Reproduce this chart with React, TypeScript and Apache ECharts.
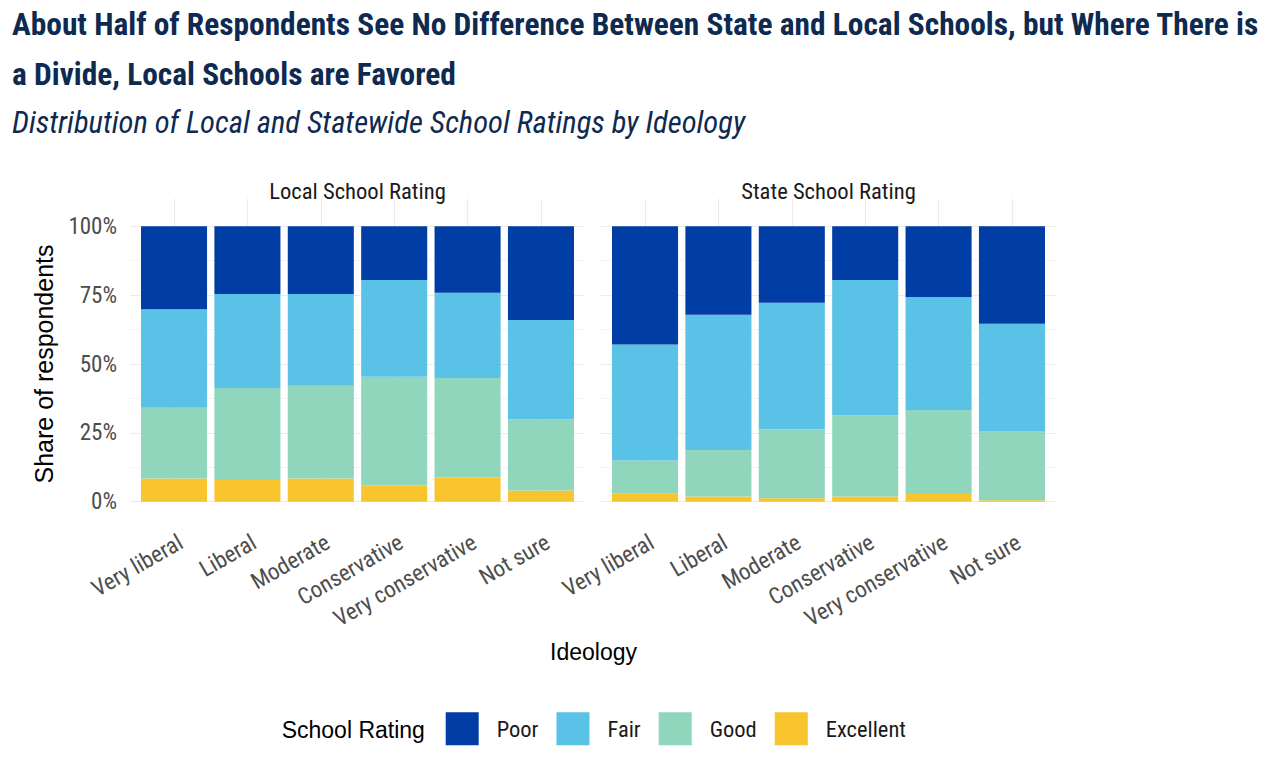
import React, { useEffect, useRef } from "react";
import * as echarts from "echarts";

const categories = ["Very liberal", "Liberal", "Moderate", "Conservative", "Very conservative", "Not sure"];
const ratings = ["Poor", "Fair", "Good", "Excellent"];
const yTicks = [0, 25, 50, 75, 100];

const localPoor = [30.1, 24.6, 24.6, 19.5, 24.1, 34.0];
const localFair = [35.8, 34.1, 33.3, 35.1, 31.0, 36.1];
const localGood = [25.7, 33.4, 33.7, 39.5, 36.1, 25.8];
const localExcellent = [8.4, 7.9, 8.4, 5.9, 8.8, 4.1];

const statePoor = [42.9, 32.1, 27.8, 19.5, 25.7, 35.4];
const stateFair = [42.1, 49.1, 45.9, 49.1, 41.0, 38.9];
const stateGood = [11.9, 16.9, 25.0, 29.5, 30.5, 25.2];
const stateExcellent = [3.1, 1.9, 1.3, 1.9, 2.8, 0.5];

const colors: Record<string, string> = {
  Poor: "#003DA5",
  Fair: "#5BC2E7",
  Good: "#8FD6BD",
  Excellent: "#F9C52E",
};

const NARROW = "'Liberation Sans Narrow', 'Arial Narrow', 'Roboto Condensed', sans-serif";
const REG = "'Liberation Sans', Arial, sans-serif";
const TITLE_COLOR = "#0E2A50";
const GRID_COLOR = "#EBEBEB";

const unit = 455 / 6.2;
const panels = [
  { left: 130, title: "Local School Rating", data: { Poor: localPoor, Fair: localFair, Good: localGood, Excellent: localExcellent } },
  { left: 601, title: "State School Rating", data: { Poor: statePoor, Fair: stateFair, Good: stateGood, Excellent: stateExcellent } },
];

export default function App() {
  const ref = useRef<HTMLDivElement>(null);
  useEffect(() => {
    document.body.style.margin = "0";
    const chart = echarts.init(ref.current!, null, { renderer: "svg" });

    const grids: any[] = [];
    const xAxes: any[] = [];
    const yAxes: any[] = [];
    // gridline grids (0,1)
    panels.forEach((p, i) => {
      grids.push({ left: p.left, top: 226.3, width: 455, height: 275.4, containLabel: false });
      xAxes.push({ type: "value", gridIndex: i, min: 0, max: 1, show: false });
      yAxes.push({
        type: "value",
        gridIndex: i,
        min: 0,
        max: 100,
        interval: 25,
        axisLine: { show: false },
        axisTick: { show: false },
        axisLabel: {
          show: i === 0,
          formatter: "{value}%",
          color: "#4D4D4D",
          fontSize: 23,
          fontFamily: NARROW,
          margin: 13,
          padding: [5, 0, 0, 0],
          customValues: yTicks,
        },
        splitLine: { show: true, lineStyle: { color: GRID_COLOR, width: 1.1 } },
        minorTick: { show: false, splitNumber: 2 },
        minorSplitLine: { show: true, lineStyle: { color: GRID_COLOR, width: 0.55 } },
      });
    });
    // bar grids (2,3)
    panels.forEach((p, i) => {
      grids.push({ left: p.left + 0.1 * unit, top: 212.5, width: 6 * unit, height: 303, containLabel: false });
      xAxes.push({
        type: "category",
        gridIndex: 2 + i,
        data: categories,
        axisLine: { show: false },
        axisTick: {
          show: true,
          inside: true,
          length: 303,
          alignWithLabel: true,
          interval: 0,
          lineStyle: { color: GRID_COLOR, width: 1.1 },
        },
        axisLabel: {
          interval: 0,
          rotate: 30,
          color: "#4D4D4D",
          fontSize: 23,
          fontFamily: NARROW,
          margin: 29,
          padding: [0, -8, 0, 0],
        },
        splitLine: { show: false },
      });
      yAxes.push({ type: "value", gridIndex: 2 + i, min: -5, max: 105, show: false, splitLine: { show: false } });
    });

    const series: any[] = [];
    panels.forEach((p, i) => {
      ["Excellent", "Good", "Fair", "Poor"].forEach((r) => {
        series.push({
          type: "bar",
          name: r,
          xAxisIndex: 2 + i,
          yAxisIndex: 2 + i,
          stack: "s" + i,
          barWidth: "90%",
          data: (p.data as any)[r],
          itemStyle: { color: colors[r] },
          emphasis: { disabled: true },
        });
      });
    });

    chart.setOption({
      animation: false,
      backgroundColor: "#FFFFFF",
      title: [
        {
          text: "About Half of Respondents See No Difference Between State and Local Schools, but Where There is\na Divide, Local Schools are Favored",
          left: 12,
          top: -1,
          padding: 0,
          textStyle: { fontSize: 31.4, fontWeight: "bold", lineHeight: 50, color: TITLE_COLOR, fontFamily: NARROW },
        },
        {
          text: "Distribution of Local and Statewide School Ratings by Ideology",
          left: 12,
          top: 107,
          padding: 0,
          textStyle: { fontSize: 30.6, fontStyle: "italic", fontWeight: "normal", color: TITLE_COLOR, fontFamily: NARROW },
        },
        ...panels.map((p) => ({
          text: p.title,
          left: p.left + 227.5,
          textAlign: "center",
          top: 180,
          padding: 0,
          textStyle: { fontSize: 22.6, fontWeight: "normal", color: "#1A1A1A", fontFamily: NARROW },
        })),
      ],
      legend: {
        data: ratings,
        left: 445.7,
        top: 712.3,
        padding: 0,
        orient: "horizontal",
        itemWidth: 33,
        itemHeight: 33,
        itemGap: 18,
        icon: "rect",
        selectedMode: false,
        textStyle: { fontSize: 22.5, color: "#1A1A1A", fontFamily: NARROW, padding: [4, 0, 0, 13] },
      },
      grid: grids,
      xAxis: xAxes,
      yAxis: yAxes,
      series,
      graphic: [
        {
          type: "text",
          x: 44,
          y: 364,
          rotation: Math.PI / 2,
          style: {
            text: "Share of respondents",
            fontSize: 25,
            fontFamily: REG,
            fill: "#000000",
            align: "center",
            verticalAlign: "middle",
          },
        },
        {
          type: "text",
          x: 593.5,
          y: 652,
          style: {
            text: "Ideology",
            fontSize: 23,
            fontFamily: REG,
            fill: "#000000",
            align: "center",
            verticalAlign: "middle",
          },
        },
        {
          type: "text",
          x: 281.7,
          y: 730,
          style: {
            text: "School Rating",
            fontSize: 23,
            fontFamily: REG,
            fill: "#000000",
            align: "left",
            verticalAlign: "middle",
          },
        },
      ],
    });
    return () => chart.dispose();
  }, []);
  return <div ref={ref} style={{ width: 1282, height: 776 }} />;
}
